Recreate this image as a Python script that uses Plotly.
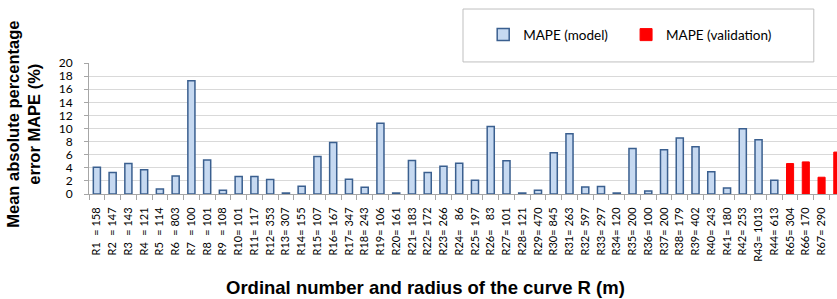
import plotly.graph_objects as go

# Model curves
model_ids = ["R1","R2","R3","R4","R5","R6","R7","R8","R9","R10","R11","R12","R13","R14","R15",
             "R16","R17","R18","R19","R20","R21","R22","R23","R24","R25","R26","R27","R28","R29","R30",
             "R31","R32","R33","R34","R35","R36","R37","R38","R39","R40","R41","R42","R43","R44"]
model_radius = [158,147,143,121,114,803,100,101,108,101,117,353,307,155,107,
                167,347,243,106,161,183,172,266,86,197,83,101,121,470,845,
                263,597,297,120,200,100,200,179,402,243,180,253,1013,613]
model_mape = [4.1,3.3,4.65,3.7,0.77,2.76,17.3,5.2,0.56,2.66,2.66,2.2,0.15,1.18,5.73,
              7.88,2.25,1.02,10.8,0.15,5.1,3.3,4.25,4.7,2.1,10.3,5.06,0.15,0.56,6.3,
              9.2,1.07,1.13,0.15,6.96,0.46,6.75,8.54,7.2,3.38,0.92,9.97,8.29,2.1]

# Validation curves
valid_ids = ["R65","R66","R67","R68"]
valid_radius = [304,170,290,325]
valid_mape = [4.65,4.9,2.56,6.4]

y_ticks = [0,2,4,6,8,10,12,14,16,18,20]

FS = "\u2007"  # figure space


def label(rid, rad):
    name = rid + FS * (3 - len(rid)) + "="
    num = str(rad)
    num = FS * max(0, 3 - len(num)) + num
    return name + "\u00a0" + num

model_x = [label(a, b) for a, b in zip(model_ids, model_radius)]
valid_x = [label(a, b) for a, b in zip(valid_ids, valid_radius)]

fig = go.Figure()
fig.add_trace(go.Bar(x=model_x, y=model_mape, name="MAPE (model)", width=0.45, legend="legend",
                     marker=dict(color="#C6D9F1", line=dict(color="#3A5F8F", width=1.5))))
fig.add_trace(go.Bar(x=valid_x, y=valid_mape, name="MAPE (validation)", width=0.45, legend="legend2",
                     marker=dict(color="#FF0000", line=dict(color="#FF0000", width=1))))

legend_common = dict(orientation="h", y=1.215, yanchor="middle", xanchor="left",
                     font=dict(size=13.5, family="Lato, sans-serif"),
                     bgcolor="rgba(0,0,0,0)", itemclick=False)

fig.update_layout(
    width=837, height=299,
    margin=dict(l=89, r=0, t=63, b=105, autoexpand=False),
    barmode="overlay",
    plot_bgcolor="white", paper_bgcolor="white",
    font=dict(family="Lato, Open Sans, sans-serif", color="#000"),
    showlegend=True,
    legend=dict(x=0.527, **legend_common),
    legend2=dict(x=0.718, **legend_common),
    xaxis=dict(type="category", categoryorder="array", categoryarray=model_x + valid_x,
               range=[-0.5, 46.98], tickangle=-90, tickfont=dict(size=11, family="Lato, sans-serif"),
               showline=True, linecolor="#A6A6A6", linewidth=1, automargin=False,
               ticks="outside", tickson="boundaries", ticklen=5, tickcolor="#A6A6A6",
               ticklabelstandoff=8, showgrid=False),
    yaxis=dict(range=[0, 20], tickvals=y_ticks, tickfont=dict(size=12, family="Lato, sans-serif"),
               showline=True, linecolor="#A6A6A6", linewidth=1, automargin=False,
               ticks="outside", ticklen=4, tickcolor="#A6A6A6", ticklabelstandoff=9,
               showgrid=True, gridcolor="#D9D9D9", gridwidth=1, zeroline=False),
)

fig.add_shape(type="rect", xref="paper", yref="paper", x0=0.5, x1=0.969, y0=1.008, y1=1.412,
              line=dict(color="#BFBFBF", width=1), fillcolor="rgba(0,0,0,0)", layer="below")

fig.add_annotation(text="Mean absolute percentage<br>error MAPE (%)", xref="paper", yref="paper",
                   x=-0.088, y=0.53, xanchor="center", yanchor="middle", textangle=-90,
                   showarrow=False,
                   font=dict(size=16.5, family="Liberation Sans, Arial, sans-serif", weight="bold"))

fig.add_annotation(text="Ordinal number and radius of the curve R (m)", xref="paper", yref="paper",
                   x=0.45, y=-0.715, xanchor="center", yanchor="middle", showarrow=False,
                   font=dict(size=18.5, family="Liberation Sans, Arial, sans-serif", weight="bold"))

fig.write_html("out.html", config={"displayModeBar": False},
               post_script="document.body.style.margin='0';")
